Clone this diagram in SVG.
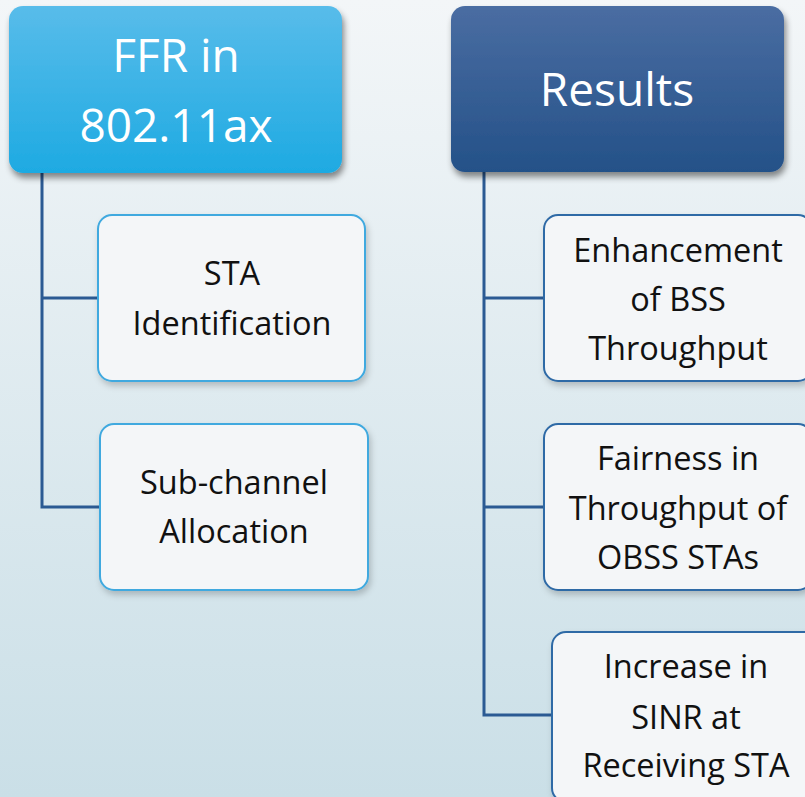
<svg xmlns="http://www.w3.org/2000/svg" width="805" height="797" viewBox="0 0 805 797">
  <defs>
    <linearGradient id="bg" x1="0" y1="0" x2="0" y2="1">
      <stop offset="0" stop-color="#f3f6f8"/>
      <stop offset="1" stop-color="#cadfe7"/>
    </linearGradient>
    <linearGradient id="gLight" x1="0" y1="0" x2="0" y2="1">
      <stop offset="0" stop-color="#58bcea"/>
      <stop offset="1" stop-color="#1eaae2"/>
    </linearGradient>
    <linearGradient id="gDark" x1="0" y1="0" x2="0" y2="1">
      <stop offset="0" stop-color="#4a6da2"/>
      <stop offset="1" stop-color="#245188"/>
    </linearGradient>
    <filter id="shadowHead" x="-10%" y="-10%" width="125%" height="130%">
      <feDropShadow dx="2" dy="5" stdDeviation="3" flood-color="#000" flood-opacity="0.45"/>
    </filter>
    <filter id="shadowChild" x="-10%" y="-10%" width="125%" height="130%">
      <feDropShadow dx="2" dy="4" stdDeviation="3" flood-color="#000" flood-opacity="0.2"/>
    </filter>
  </defs>
  <style>
    .head-text { font-family: "Open Sans", "Noto Sans", sans-serif; font-size: 46px; fill: #ffffff; text-anchor: middle; }
    .child-text { font-family: "Open Sans", "Noto Sans", sans-serif; font-size: 32.5px; fill: #111111; text-anchor: middle; }
    .child-light { fill: #f4f6f8; stroke: #3fa9df; stroke-width: 2; filter: url(#shadowChild); }
    .child-dark { fill: #f4f6f8; stroke: #2f6aa6; stroke-width: 2; filter: url(#shadowChild); }
    .link { fill: none; stroke: #2b5a93; stroke-width: 3; }
  </style>

  <rect x="0" y="0" width="805" height="797" fill="url(#bg)"/>

  <g id="connectors">
    <path class="link" d="M42 172 V507 H100 M42 298 H98"/>
    <path class="link" d="M484 172 V715 H552 M484 298 H544 M484 507 H544"/>
  </g>

  <g id="ffr">
    <rect x="9" y="6" width="333" height="167" rx="14" fill="url(#gLight)" filter="url(#shadowHead)"/>
    <text class="head-text" x="176" y="72">FFR in</text>
    <text class="head-text" x="176" y="142">802.11ax</text>
  </g>

  <g id="results">
    <rect x="451" y="6" width="333" height="166" rx="14" fill="url(#gDark)" filter="url(#shadowHead)"/>
    <text class="head-text" x="617" y="106">Results</text>
  </g>

  <g id="sta-identification">
    <rect class="child-light" x="98" y="215" width="267" height="166" rx="14"/>
    <text class="child-text" x="232" y="285">STA</text>
    <text class="child-text" x="232" y="335">Identification</text>
  </g>

  <g id="sub-channel-allocation">
    <rect class="child-light" x="100" y="424" width="268" height="166" rx="14"/>
    <text class="child-text" x="234" y="494">Sub-channel</text>
    <text class="child-text" x="234" y="543">Allocation</text>
  </g>

  <g id="bss-throughput">
    <rect class="child-dark" x="544" y="215" width="268" height="166" rx="14"/>
    <text class="child-text" x="678" y="262">Enhancement</text>
    <text class="child-text" x="678" y="311">of BSS</text>
    <text class="child-text" x="678" y="360">Throughput</text>
  </g>

  <g id="obss-fairness">
    <rect class="child-dark" x="544" y="424" width="268" height="166" rx="14"/>
    <text class="child-text" x="678" y="470">Fairness in</text>
    <text class="child-text" x="678" y="520">Throughput of</text>
    <text class="child-text" x="678" y="569">OBSS STAs</text>
  </g>

  <g id="sinr-increase">
    <rect class="child-dark" x="552" y="632" width="268" height="170" rx="14"/>
    <text class="child-text" x="686" y="678">Increase in</text>
    <text class="child-text" x="686" y="729">SINR at</text>
    <text class="child-text" x="686" y="777">Receiving STA</text>
  </g>
</svg>
